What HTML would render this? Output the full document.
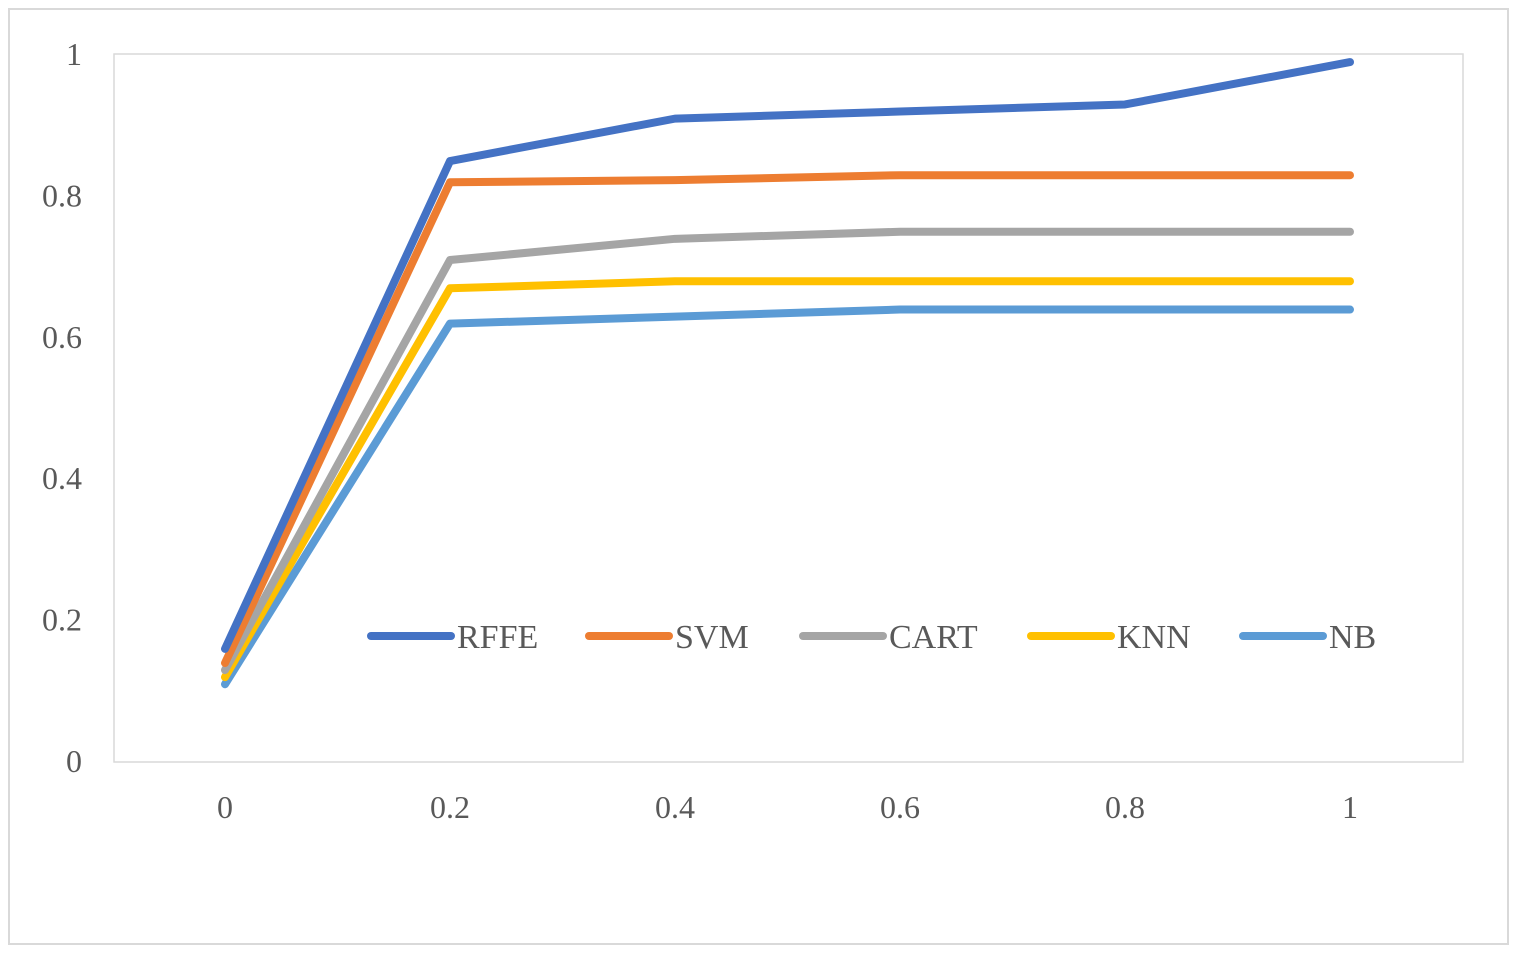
<!DOCTYPE html>
<html><head><meta charset="utf-8"><style>
html,body{margin:0;padding:0;background:#fff;}
svg{display:block;font-family:"Liberation Serif",serif;}
</style></head><body>
<svg id="chart" width="1517" height="953" viewBox="0 0 1517 953">
<rect x="9" y="9" width="1499" height="935" fill="#fff" stroke="#d9d9d9" stroke-width="2"/>
<rect x="114" y="54" width="1349" height="708" fill="none" stroke="#d9d9d9" stroke-width="1.5"/>
<g id="axes"></g><g id="series"></g><g id="legend"></g>
</svg>
<script>
const xValues=[0,0.2,0.4,0.6,0.8,1];
const xTickLabels=["0","0.2","0.4","0.6","0.8","1"];
const yTickValues=[0,0.2,0.4,0.6,0.8,1];
const yTickLabels=["0","0.2","0.4","0.6","0.8","1"];
const seriesNames=["RFFE","SVM","CART","KNN","NB"];
const rffe=[0.16,0.85,0.91,0.92,0.93,0.99];
const svm=[0.14,0.82,0.823,0.83,0.83,0.83];
const cart=[0.13,0.71,0.74,0.75,0.75,0.75];
const knn=[0.12,0.67,0.68,0.68,0.68,0.68];
const nb=[0.11,0.62,0.63,0.64,0.64,0.64];
const seriesData=[rffe,svm,cart,knn,nb];
const colors=["#4472c4","#ed7d31","#a5a5a5","#ffc000","#5b9bd5"];
const NS="http://www.w3.org/2000/svg";
const xs=v=>225+v*1125;
const ys=v=>762-v*707;
const axes=document.getElementById('axes');
yTickValues.forEach((v,i)=>{
 const t=document.createElementNS(NS,'text');
 t.setAttribute('x',82);t.setAttribute('y',ys(v)+10);t.setAttribute('text-anchor','end');
 t.setAttribute('font-size','32');t.setAttribute('fill','#595959');
 t.textContent=yTickLabels[i];
 
 
 axes.appendChild(t);
});
xValues.forEach((v,i)=>{
 const t=document.createElementNS(NS,'text');
 t.setAttribute('x',xs(v));t.setAttribute('y',818);t.setAttribute('text-anchor','middle');
 t.setAttribute('font-size','32');t.setAttribute('fill','#595959');
 t.textContent=xTickLabels[i];
 
 
 axes.appendChild(t);
});
const sg=document.getElementById('series');
for(let s=seriesData.length-1;s>=0;s--){
 const p=document.createElementNS(NS,'polyline');
 p.setAttribute('points',seriesData[s].map((v,i)=>xs(xValues[i])+','+ys(v)).join(' '));
 p.setAttribute('fill','none');p.setAttribute('stroke',colors[s]);
 p.setAttribute('stroke-width','8');p.setAttribute('stroke-linecap','round');p.setAttribute('stroke-linejoin','round');
 
 
 sg.appendChild(p);
}
const lg=document.getElementById('legend');
const lx=[371,589,803,1031,1243];
seriesNames.forEach((n,i)=>{
 const g=document.createElementNS(NS,'g');
 
 
 const l=document.createElementNS(NS,'line');
 l.setAttribute('x1',lx[i]);l.setAttribute('x2',lx[i]+80);l.setAttribute('y1',636);l.setAttribute('y2',636);
 l.setAttribute('stroke',colors[i]);l.setAttribute('stroke-width','8');l.setAttribute('stroke-linecap','round');
 g.appendChild(l);
 const t=document.createElementNS(NS,'text');
 t.setAttribute('x',lx[i]+86);t.setAttribute('y',648);t.setAttribute('font-size','34');t.setAttribute('fill','#595959');
 t.textContent=n;
 g.appendChild(t);
 lg.appendChild(g);
});
</script>
</body></html>
